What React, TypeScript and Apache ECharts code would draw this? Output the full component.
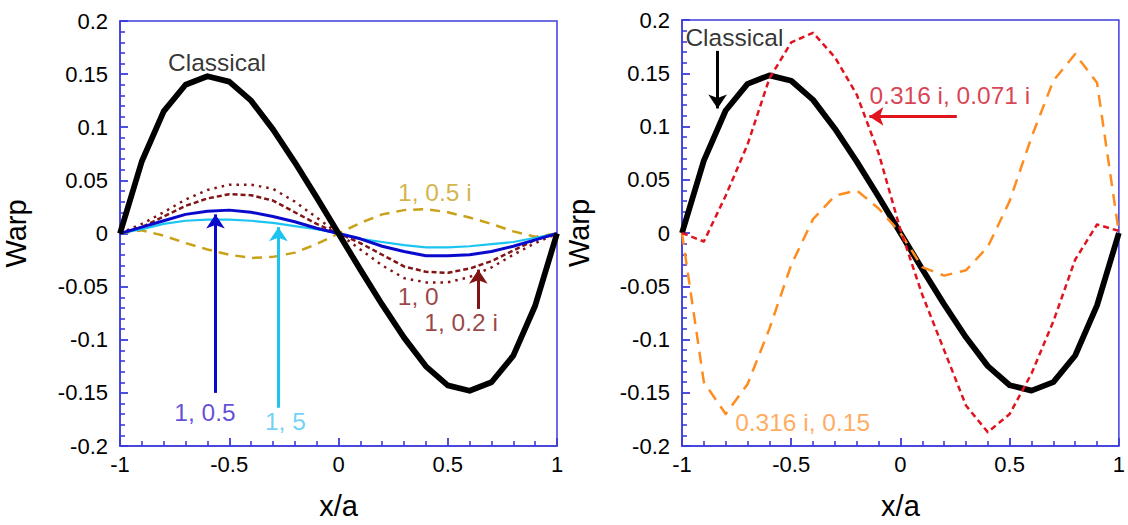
import React, { useEffect, useRef } from "react";
import * as echarts from "echarts";

// ---------- data ----------
const xValues = [-1, -0.9, -0.8, -0.7, -0.6, -0.5, -0.4, -0.3, -0.2, -0.1, 0, 0.1, 0.2, 0.3, 0.4, 0.5, 0.6, 0.7, 0.8, 0.9, 1];

const classical = [0, 0.068, 0.115, 0.14, 0.148, 0.143, 0.125, 0.098, 0.067, 0.034, 0, -0.034, -0.067, -0.098, -0.125, -0.143, -0.148, -0.14, -0.115, -0.068, 0];

// left panel
const warp1_0 = [0, 0.009, 0.02, 0.032, 0.041, 0.046, 0.046, 0.042, 0.03, 0.015, 0, -0.015, -0.03, -0.042, -0.046, -0.046, -0.041, -0.032, -0.02, -0.009, 0];
const warp1_02i = [0, 0.006, 0.016, 0.026, 0.033, 0.037, 0.036, 0.031, 0.02, 0.009, 0, -0.009, -0.02, -0.031, -0.036, -0.037, -0.033, -0.026, -0.016, -0.006, 0];
const warp1_05 = [0, 0.006, 0.012, 0.018, 0.021, 0.022, 0.02, 0.016, 0.011, 0.005, 0, -0.005, -0.012, -0.017, -0.021, -0.021, -0.02, -0.017, -0.012, -0.006, 0];
const warp1_5 = [0, 0.004, 0.009, 0.012, 0.013, 0.013, 0.012, 0.01, 0.007, 0.004, 0, -0.005, -0.008, -0.011, -0.013, -0.013, -0.012, -0.01, -0.008, -0.004, 0];
const warp1_05i = [0, 0.003, -0.002, -0.009, -0.015, -0.02, -0.023, -0.022, -0.018, -0.01, 0, 0.01, 0.018, 0.022, 0.023, 0.02, 0.015, 0.009, 0.002, -0.003, 0];

// right panel
const warp0316i_0071i = [0, -0.008, 0.035, 0.083, 0.145, 0.179, 0.188, 0.165, 0.13, 0.075, 0.003, -0.058, -0.11, -0.162, -0.187, -0.17, -0.132, -0.083, -0.025, 0.008, 0.002];
const warp0316i_015 = [0, -0.14, -0.17, -0.142, -0.09, -0.03, 0.013, 0.035, 0.04, 0.023, 0, -0.032, -0.04, -0.035, -0.013, 0.03, 0.09, 0.143, 0.168, 0.141, 0];

// tick settings
const xMin = -1, xMax = 1, xStep = 0.5;
const yMin = -0.2, yMax = 0.2, yStep = 0.05;

// annotation texts
const leftTexts = ["Classical", "1, 0.5 i", "1, 0.5", "1, 5", "1, 0.2 i", "1, 0"];
const rightTexts = ["Classical", "0.316 i, 0.071 i", "0.316 i, 0.15"];

// ---------- styling / layout ----------
const FONT = "'Liberation Sans', Arial, Helvetica, sans-serif";
const AX = "#3c3cdc";

const C = {
  black: "#000000",
  blue: "#0a0acc",
  blueText: "#3a1fcf",
  light: "#1cc4f0",
  lightText: "#4cc6f4",
  dark: "#801515",
  gold: "#c9a116",
  red: "#e0141e",
  redText: "#d01028",
  orange: "#ff8c1f",
  orangeText: "#ff9638",
};

const leftLabelPos = [
  { x: -0.556, y: 0.161, color: C.black },
  { x: 0.441, y: 0.039, color: C.gold },
  { x: -0.611, y: -0.168, color: C.blueText },
  { x: -0.243, y: -0.177, color: C.lightText },
  { x: 0.561, y: -0.084, color: C.dark },
  { x: 0.365, y: -0.059, color: C.dark },
];
const leftArrows = [
  { x1: -0.563, y1: -0.150, x2: -0.563, y2: 0.018, color: C.blue },
  { x1: -0.275, y1: -0.164, x2: -0.275, y2: 0.006, color: C.light },
  { x1: 0.64, y1: -0.071, x2: 0.64, y2: -0.034, color: C.dark },
];
const rightLabelPos = [
  { x: -0.76, y: 0.184, color: C.black },
  { x: 0.226, y: 0.129, color: C.redText },
  { x: -0.448, y: -0.178, color: C.orangeText },
];
const rightArrows = [
  { x1: -0.837, y1: 0.171, x2: -0.837, y2: 0.117, color: C.black },
  { x1: 0.258, y1: 0.1095, x2: -0.142, y2: 0.1095, color: C.red },
];

const pts = (ys: number[]) => xValues.map((x, i) => [x, ys[i]]);

function xAxisCfg(gridIndex: number) {
  return {
    type: "value",
    gridIndex,
    min: xMin,
    max: xMax,
    interval: xStep,
    name: "x/a",
    nameLocation: "middle",
    nameGap: 45,
    nameTextStyle: { fontSize: 29, color: "#000", fontFamily: FONT },
    axisLine: { show: true, onZero: false, lineStyle: { color: AX, width: 1.5 } },
    axisTick: { show: true, inside: true, length: 8, lineStyle: { color: AX, width: 1.8 } },
    minorTick: { show: true, splitNumber: 5, length: 5, lineStyle: { color: AX, width: 1.6 } },
    axisLabel: { fontSize: 22, color: "#000", margin: 7, fontFamily: FONT },
    splitLine: { show: false },
    minorSplitLine: { show: false },
  };
}

function yAxisCfg(gridIndex: number, gap: number) {
  return {
    type: "value",
    gridIndex,
    min: yMin,
    max: yMax,
    interval: yStep,
    name: "Warp",
    nameLocation: "middle",
    nameGap: gap,
    nameTextStyle: { fontSize: 29, color: "#000", fontFamily: FONT },
    axisLine: { show: true, onZero: false, lineStyle: { color: AX, width: 1.5 } },
    axisTick: { show: true, inside: true, length: 8, lineStyle: { color: AX, width: 1.8 } },
    minorTick: { show: true, splitNumber: 5, length: 5, lineStyle: { color: AX, width: 1.6 } },
    axisLabel: { fontSize: 22, color: "#000", margin: 12, fontFamily: FONT },
    splitLine: { show: false },
    minorSplitLine: { show: false },
  };
}

function lineSeries(idx: number, name: string, ys: number[], color: string, width: number, type: any) {
  return {
    type: "line",
    name,
    xAxisIndex: idx,
    yAxisIndex: idx,
    data: pts(ys),
    showSymbol: false,
    symbol: "none",
    smooth: false,
    silent: true,
    lineStyle: { color, width, type, cap: "butt", join: "round" },
  };
}

function annotationSeries(idx: number, texts: string[], pos: any[], arrows: any[]) {
  return {
    type: "scatter",
    xAxisIndex: idx,
    yAxisIndex: idx,
    symbolSize: 1,
    silent: true,
    itemStyle: { color: "rgba(0,0,0,0)" },
    data: texts.map((t, i) => ({
      value: [pos[i].x, pos[i].y],
      label: {
        show: true,
        position: "inside",
        formatter: t,
        color: pos[i].color,
        fontSize: 24.5,
        fontFamily: FONT,
      },
    })),
    markLine: {
      silent: true,
      symbol: ["none", "arrow"],
      symbolSize: 14,
      label: { show: false },
      animation: false,
      data: arrows.map((a) => [
        { coord: [a.x1, a.y1], lineStyle: { color: a.color, width: 3, type: "solid" }, itemStyle: { color: a.color } },
        { coord: [a.x2, a.y2] },
      ]),
    },
  };
}

export default function App() {
  const ref = useRef<HTMLDivElement>(null);
  useEffect(() => {
    document.body.style.margin = "0";
    const chart = echarts.init(ref.current as HTMLDivElement, null, { renderer: "svg" });
    const option: any = {
      animation: false,
      backgroundColor: "#ffffff",
      grid: [
        { left: 113, top: 21, width: 444, height: 444, show: true, borderColor: AX, borderWidth: 1.5 },
        { left: 682, top: 20, width: 442, height: 442, show: true, borderColor: AX, borderWidth: 1.5 },
      ],
      xAxis: [xAxisCfg(0), xAxisCfg(1)],
      yAxis: [yAxisCfg(0, 90), yAxisCfg(1, 89)],
      series: [
        lineSeries(0, "1, 0.5 i", warp1_05i, C.gold, 2.5, [10, 7]),
        lineSeries(0, "1, 0", warp1_0, C.dark, 2.5, [2.5, 5]),
        lineSeries(0, "1, 0.2 i", warp1_02i, C.dark, 2.5, [5, 3]),
        lineSeries(0, "1, 5", warp1_5, C.light, 2.2, "solid"),
        lineSeries(0, "1, 0.5", warp1_05, C.blue, 3, "solid"),
        lineSeries(0, "Classical", classical, C.black, 5.8, "solid"),
        annotationSeries(0, leftTexts, leftLabelPos, leftArrows),
        lineSeries(1, "Classical", classical, C.black, 5.8, "solid"),
        lineSeries(1, "0.316 i, 0.15", warp0316i_015, C.orange, 2.5, [12, 8]),
        lineSeries(1, "0.316 i, 0.071 i", warp0316i_0071i, C.red, 2.5, [6, 4]),
        annotationSeries(1, rightTexts, rightLabelPos, rightArrows),
      ],
    };
    chart.setOption(option);
    return () => chart.dispose();
  }, []);
  return <div ref={ref} style={{ width: 1128, height: 525 }} />;
}
